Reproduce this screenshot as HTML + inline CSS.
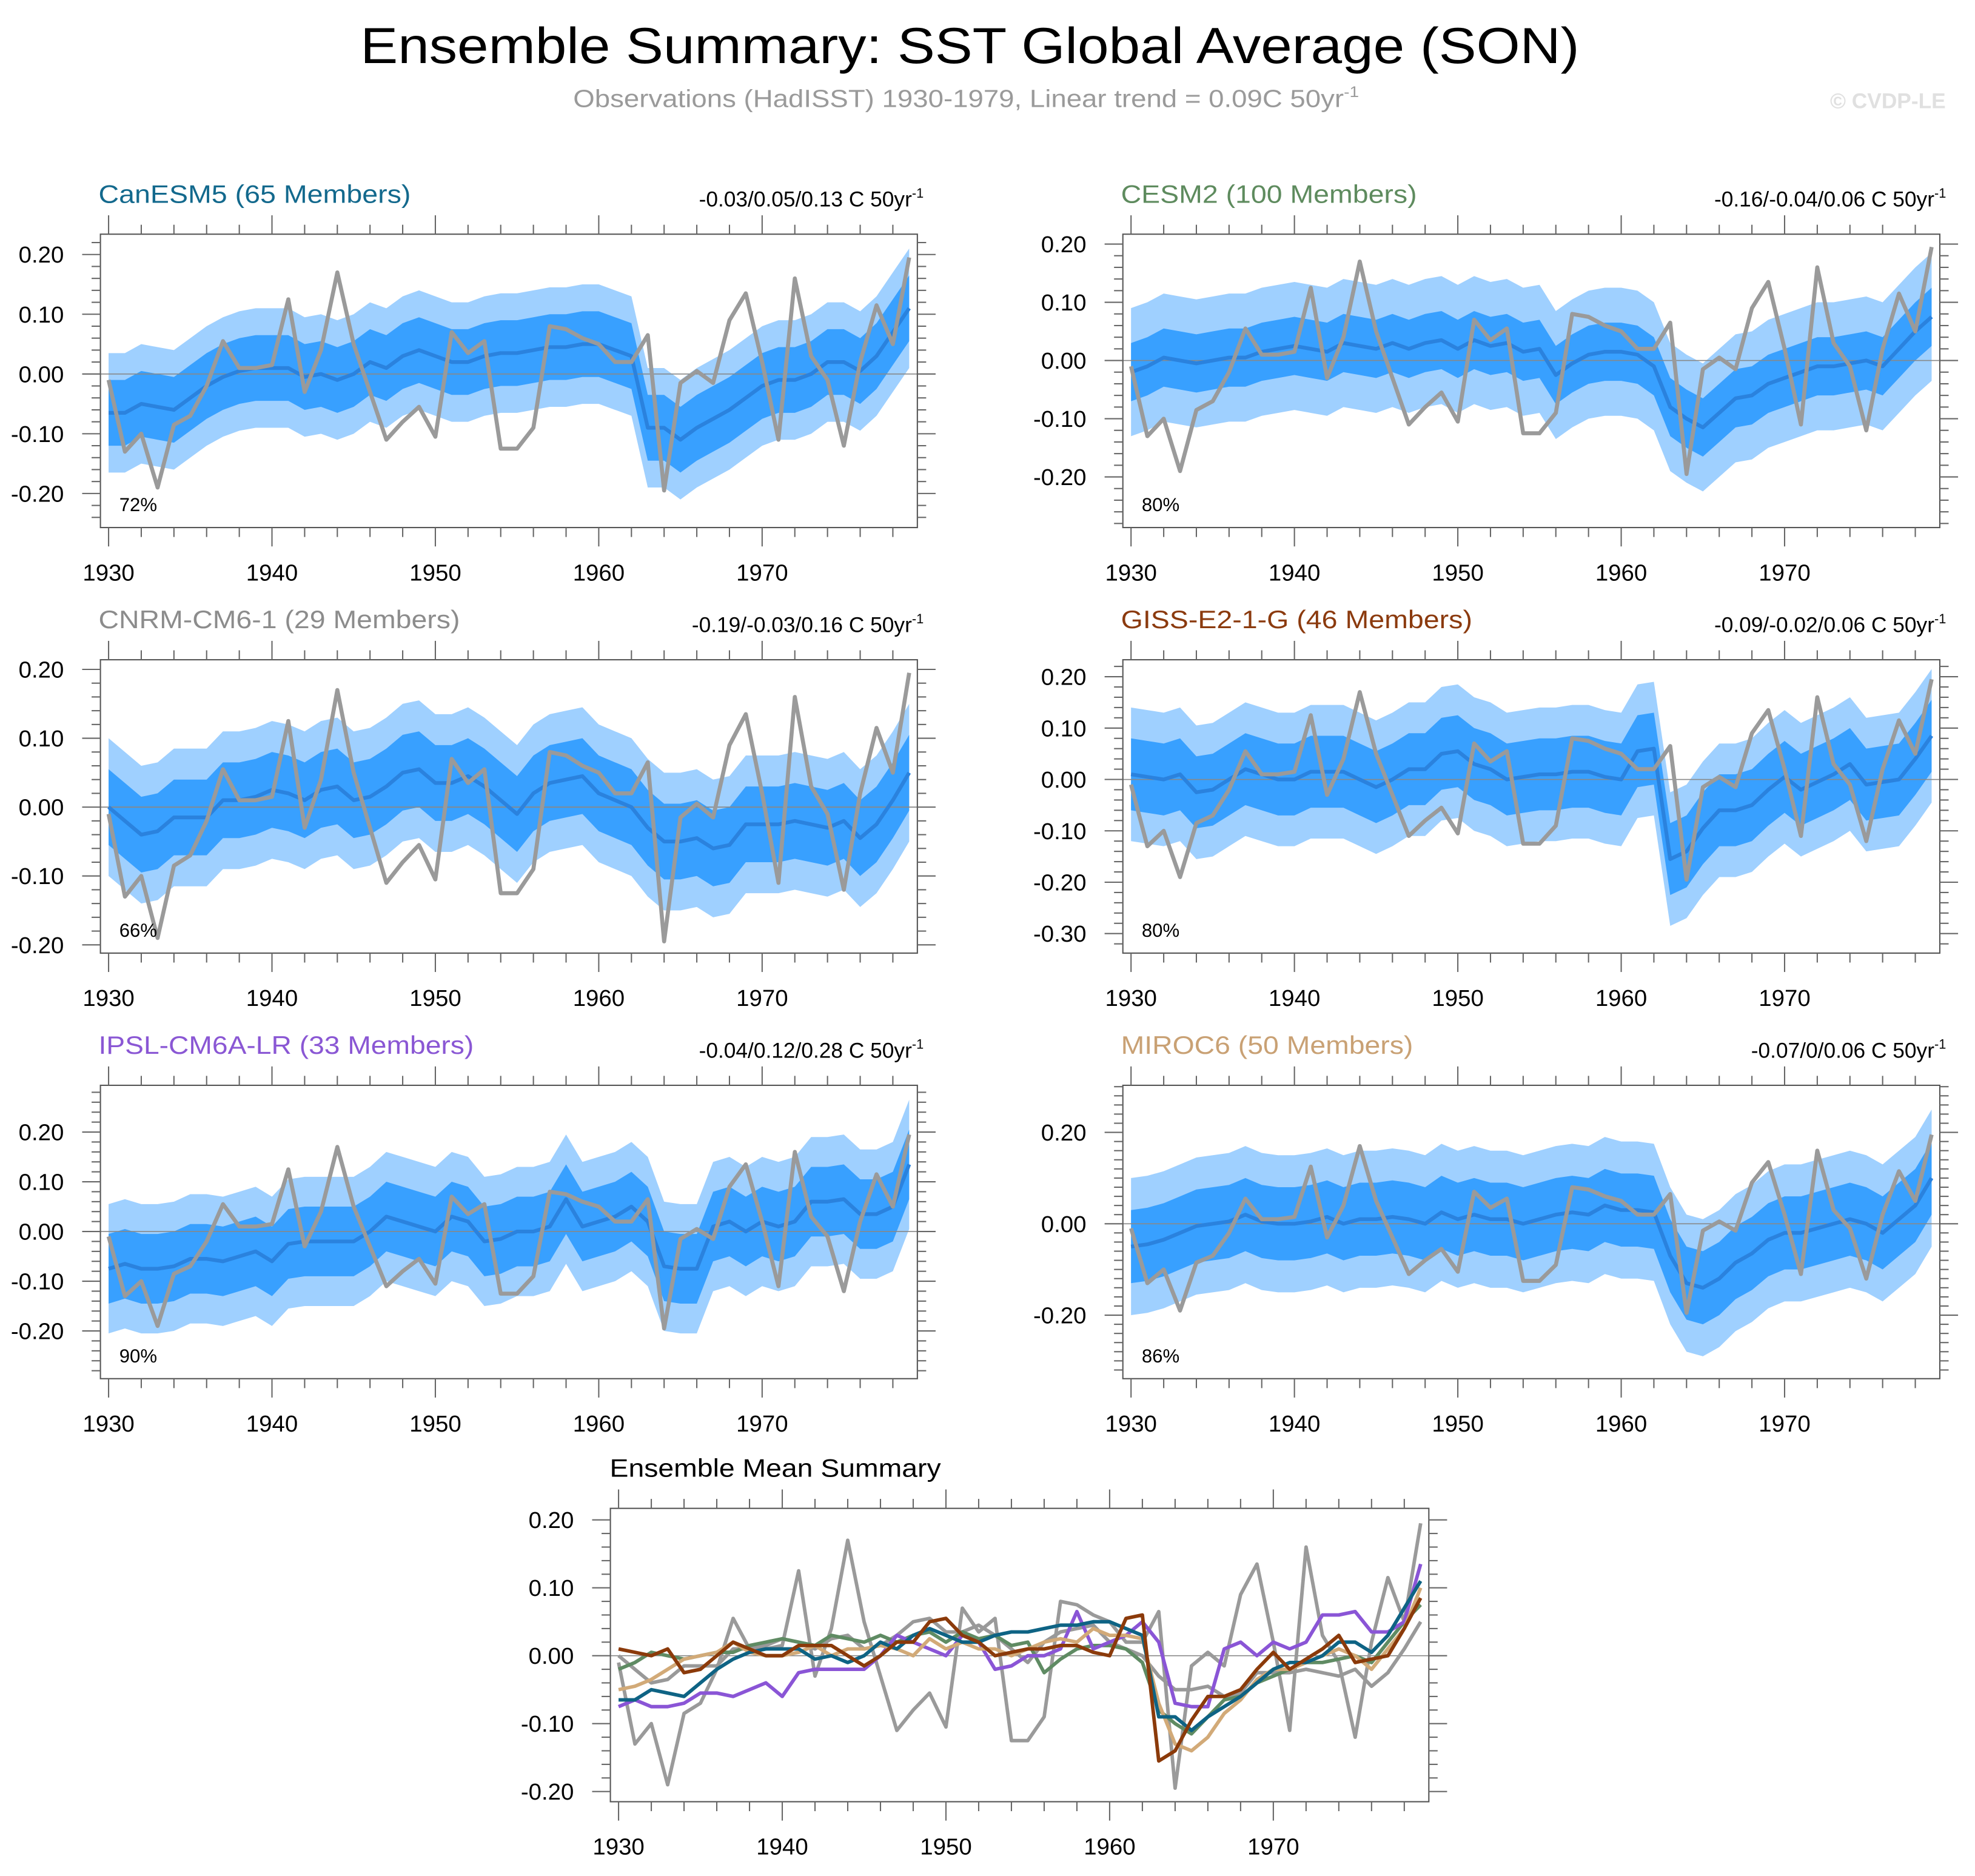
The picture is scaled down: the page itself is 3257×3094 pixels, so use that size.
<!DOCTYPE html>
<html><head><meta charset="utf-8"><title>Ensemble Summary SST</title>
<style>
html,body{margin:0;padding:0;background:#fff;}
svg{display:block;}
text{font-family:"Liberation Sans",Arial,sans-serif;}
</style></head>
<body>
<svg id="fig" xmlns="http://www.w3.org/2000/svg" width="3257" height="3094" viewBox="0 0 1568 1490">
<rect x="0" y="0" width="1568" height="1490" fill="#fff"/>
<text x="770" y="50" font-size="40" text-anchor="middle" textLength="968" lengthAdjust="spacingAndGlyphs" fill="#000">Ensemble Summary: SST Global Average (SON)</text>
<text x="455" y="85" font-size="19.5" fill="#9a9a9a" textLength="624" lengthAdjust="spacingAndGlyphs">Observations (HadISST) 1930-1979, Linear trend = 0.09C 50yr<tspan font-size="12" dy="-8">-1</tspan></text>
<text x="1545" y="86" font-size="17" font-weight="bold" fill="#e0e0e0" text-anchor="end">© CVDP-LE</text>
<g id="plots"></g>
</svg>
<script>
// ---- data ----
const years = [1930,1931,1932,1933,1934,1935,1936,1937,1938,1939,1940,1941,1942,1943,1944,1945,1946,1947,1948,1949,1950,1951,1952,1953,1954,1955,1956,1957,1958,1959,1960,1961,1962,1963,1964,1965,1966,1967,1968,1969,1970,1971,1972,1973,1974,1975,1976,1977,1978,1979];
const obs = [-0.01,-0.13,-0.10,-0.19,-0.085,-0.07,-0.02,0.055,0.01,0.01,0.015,0.125,-0.03,0.04,0.17,0.05,-0.03,-0.11,-0.08,-0.055,-0.105,0.07,0.035,0.055,-0.125,-0.125,-0.09,0.08,0.075,0.06,0.05,0.02,0.02,0.065,-0.195,-0.015,0.005,-0.015,0.09,0.135,0.02,-0.11,0.16,0.03,-0.01,-0.12,0.02,0.115,0.05,0.195];
const canesm5 = [-0.065,-0.065,-0.05,-0.055,-0.06,-0.04,-0.02,-0.005,0.005,0.01,0.01,0.01,-0.005,0,-0.01,0,0.02,0.01,0.03,0.04,0.03,0.02,0.02,0.03,0.035,0.035,0.04,0.045,0.045,0.05,0.05,0.04,0.03,-0.09,-0.09,-0.11,-0.09,-0.075,-0.06,-0.04,-0.02,-0.01,-0.01,0.0,0.02,0.02,0.005,0.03,0.07,0.11];
const cesm2 = [-0.02,-0.01,0.005,0.0,-0.005,0.0,0.005,0.005,0.015,0.02,0.025,0.02,0.015,0.03,0.025,0.02,0.03,0.02,0.03,0.035,0.02,0.035,0.025,0.03,0.015,0.02,-0.025,-0.005,0.01,0.015,0.015,0.01,-0.01,-0.08,-0.1,-0.115,-0.09,-0.065,-0.06,-0.04,-0.03,-0.02,-0.01,-0.01,-0.005,0.0,-0.01,0.02,0.05,0.075];
const cnrm = [0.0,-0.02,-0.04,-0.035,-0.015,-0.015,-0.015,0.01,0.01,0.015,0.025,0.02,0.01,0.025,0.03,0.01,0.015,0.03,0.05,0.055,0.035,0.035,0.045,0.03,0.01,-0.01,0.02,0.035,0.04,0.045,0.02,0.01,0.0,-0.03,-0.05,-0.05,-0.045,-0.06,-0.055,-0.025,-0.025,-0.025,-0.02,-0.025,-0.03,-0.02,-0.045,-0.025,0.01,0.05];
const giss = [0.01,0.005,0.0,0.01,-0.025,-0.02,0.0,0.02,0.01,0.0,0.0,0.015,0.015,0.015,0.0,-0.015,0.0,0.02,0.02,0.05,0.055,0.03,0.02,0.0,0.005,0.01,0.01,0.015,0.015,0.005,0.0,0.055,0.06,-0.155,-0.14,-0.095,-0.06,-0.06,-0.05,-0.02,0.005,-0.02,-0.005,0.01,0.03,-0.01,-0.005,0.0,0.04,0.085];
const ipsl = [-0.075,-0.065,-0.075,-0.075,-0.07,-0.055,-0.055,-0.06,-0.05,-0.04,-0.06,-0.025,-0.02,-0.02,-0.02,-0.02,0.0,0.03,0.02,0.01,0.0,0.03,0.02,-0.02,-0.015,0.0,0.0,0.01,0.065,0.01,0.02,0.03,0.05,0.02,-0.07,-0.075,-0.075,0.01,0.02,0.0,0.02,0.01,0.02,0.06,0.06,0.065,0.035,0.035,0.05,0.135];
const miroc6 = [-0.05,-0.045,-0.035,-0.02,-0.005,0.0,0.005,0.02,0.005,0.0,0.0,0.005,0.015,0.0,0.01,0.01,0.015,0.01,0.0,0.025,0.01,0.02,0.01,0.01,0.0,0.01,0.02,0.025,0.02,0.04,0.03,0.03,0.025,-0.07,-0.13,-0.14,-0.12,-0.085,-0.065,-0.035,-0.02,-0.02,-0.01,0.0,0.01,0.0,-0.02,0.01,0.04,0.1];
const modelNames = ["CanESM5 (65 Members)","CESM2 (100 Members)","CNRM-CM6-1 (29 Members)","GISS-E2-1-G (46 Members)","IPSL-CM6A-LR (33 Members)","MIROC6 (50 Members)"];
const trendLabels = ["-0.03/0.05/0.13 C 50yr","-0.16/-0.04/0.06 C 50yr","-0.19/-0.03/0.16 C 50yr","-0.09/-0.02/0.06 C 50yr","-0.04/0.12/0.28 C 50yr","-0.07/0/0.06 C 50yr"];
const pctLabels = ["72%","80%","66%","80%","90%","86%"];
const innerHalf = [0.055,0.05,0.055,0.07,0.07,0.08];
const outerHalf = [0.10,0.11,0.10,0.13,0.13,0.15];
const yTicks1 = [0.2,0.1,0,-0.1,-0.2];
const yTicks4 = [0.2,0.1,0,-0.1,-0.2,-0.3];
const yTicks6 = [0.2,0,-0.2];
const xTicks = [1930,1940,1950,1960,1970];
const series = [canesm5,cesm2,cnrm,giss,ipsl,miroc6];
const modelColors = ["#13698d","#5e8b5e","#8c8c8c","#8b3a0e","#8a57d4","#c9a174"];
const summaryColors = ["#0e6384","#5f8b63","#999999","#8b3a0a","#8a55d6","#d2aa78"];

// ---- layout ----
const NS = "http://www.w3.org/2000/svg";
const root = document.getElementById("plots");
const panels = [
  {x0:79.5,x1:728.3,y0:186,y1:419,top:0.234,bot:-0.257,ticks:yTicks1,name:"canesm5",tl:248},
  {x0:891.5,x1:1540.3,y0:186,y1:419,top:0.217,bot:-0.287,ticks:yTicks1,name:"cesm2",tl:235},
  {x0:79.5,x1:728.3,y0:524,y1:757,top:0.214,bot:-0.212,ticks:yTicks1,name:"cnrm",tl:287},
  {x0:891.5,x1:1540.3,y0:524,y1:757,top:0.233,bot:-0.338,ticks:yTicks4,name:"giss",tl:279},
  {x0:79.5,x1:728.3,y0:862,y1:1095,top:0.294,bot:-0.296,ticks:yTicks1,name:"ipsl",tl:298},
  {x0:891.5,x1:1540.3,y0:862,y1:1095,top:0.303,bot:-0.339,ticks:yTicks6,name:"miroc6",tl:232}
];
function mk(tag, attrs, parent){
  const e = document.createElementNS(NS, tag);
  for (const k in attrs) e.setAttribute(k, attrs[k]);
  (parent||root).appendChild(e);
  return e;
}
function axes(p){
  const xs = v => p.x0 + (v - 1929.5) * (p.x1 - p.x0) / 50;
  const ys = v => p.y0 + (p.top - v) * (p.y1 - p.y0) / (p.top - p.bot);
  return {xs, ys};
}
function path(pts){ return pts.map((q,i)=>(i?"L":"M")+q[0].toFixed(2)+","+q[1].toFixed(2)).join(""); }
function frame(p, g, xs, ys){
  const z = mk("line",{x1:p.x0,x2:p.x1,y1:ys(0),y2:ys(0),stroke:"#888","stroke-width":0.8},g);
  
  
  const box = mk("rect",{x:p.x0,y:p.y0,width:p.x1-p.x0,height:p.y1-p.y0,fill:"none",stroke:"#555","stroke-width":1},g);
  
  
  for (let yr=1930; yr<=1978; yr+=2){
    const major = (yr % 10 === 0);
    const L = major ? 15 : 7.5;
    const X = xs(yr);
    mk("line",{x1:X,x2:X,y1:p.y1,y2:p.y1+L,stroke:"#666","stroke-width":1},g);
    mk("line",{x1:X,x2:X,y1:p.y0,y2:p.y0-L,stroke:"#666","stroke-width":1},g);
  }
  xTicks.forEach(t=>{
    const tt = mk("text",{x:xs(t),y:p.y1+42,"font-size":18.5,"text-anchor":"middle",fill:"#000"},g);
    
    
    tt.textContent = t;
  });
  const lo = Math.ceil(p.bot/0.02 - 1e-6), hi = Math.floor(p.top/0.02 + 1e-6);
  for (let k=lo; k<=hi; k++){
    const v = k*0.02;
    const major = p.ticks.some(t=>Math.abs(t-v)<1e-6);
    const L = major ? 14.5 : 7;
    const Y = ys(v);
    mk("line",{x1:p.x0,x2:p.x0-L,y1:Y,y2:Y,stroke:"#666","stroke-width":1},g);
    mk("line",{x1:p.x1,x2:p.x1+L,y1:Y,y2:Y,stroke:"#666","stroke-width":1},g);
  }
  p.ticks.forEach(t=>{
    const tt = mk("text",{x:p.x0-29,y:ys(t)+6.5,"font-size":18.5,"text-anchor":"end",fill:"#000"},g);
    
    
    tt.textContent = t.toFixed(2);
  });
}

panels.forEach((p,i)=>{
  const g = mk("g",{});
  
  
  const {xs, ys} = axes(p);
  const m = series[i];
  const up = (w)=>m.map((v,j)=>[xs(years[j]), ys(v+w)]);
  const dn = (w)=>m.map((v,j)=>[xs(years[j]), ys(v-w)]).reverse();
  const outer = mk("path",{d:path(up(outerHalf[i]).concat(dn(outerHalf[i])))+"Z",fill:"#9fd0ff",stroke:"none"},g);
  
  
  const inner = mk("path",{d:path(up(innerHalf[i]).concat(dn(innerHalf[i])))+"Z",fill:"#38a0ff",stroke:"none"},g);
  
  
  frame(p, g, xs, ys);
  const ml = mk("path",{d:path(m.map((v,j)=>[xs(years[j]),ys(v)])),fill:"none",stroke:"#2a82de","stroke-width":3,"stroke-linejoin":"round"},g);
  
  
  const ol = mk("path",{d:path(obs.map((v,j)=>[xs(years[j]),ys(v)])),fill:"none",stroke:"#9a9a9a","stroke-width":3.2,"stroke-linejoin":"round"},g);
  
  
  const title = mk("text",{x:p.x0-1.5,y:p.y0-25,"font-size":20,fill:modelColors[i],textLength:p.tl,lengthAdjust:"spacingAndGlyphs"},g);
  
  
  title.textContent = modelNames[i];
  const tr = mk("text",{x:p.x1+5,y:p.y0-22,"font-size":17,"text-anchor":"end",fill:"#000"},g);
  
  
  tr.textContent = trendLabels[i];
  const sup = mk("tspan",{"font-size":10.5,dy:-7},tr);
  sup.textContent = "-1";
  const pc = mk("text",{x:p.x0+15,y:p.y1-13,"font-size":15,fill:"#000"},g);
  
  
  pc.textContent = pctLabels[i];
});

(function(){
  const p = {x0:484.5,x1:1134.5,y0:1198,y1:1431,top:0.217,bot:-0.215,ticks:yTicks1};
  const g = mk("g",{});
  
  
  const {xs, ys} = axes(p);
  frame(p, g, xs, ys);
  const ol = mk("path",{d:path(obs.map((v,j)=>[xs(years[j]),ys(v)])),fill:"none",stroke:"#9a9a9a","stroke-width":2.8,"stroke-linejoin":"round"},g);
  
  
  [2,1,4,5,0,3].forEach(i=>{
    const l = mk("path",{d:path(series[i].map((v,j)=>[xs(years[j]),ys(v)])),fill:"none",stroke:summaryColors[i],"stroke-width":2.8,"stroke-linejoin":"round"},g);
    
    
  });
  const t = mk("text",{x:484,y:1173,"font-size":20,fill:"#000",textLength:263,lengthAdjust:"spacingAndGlyphs"},g);
  
  
  t.textContent = "Ensemble Mean Summary";
})();
</script>
</body></html>
